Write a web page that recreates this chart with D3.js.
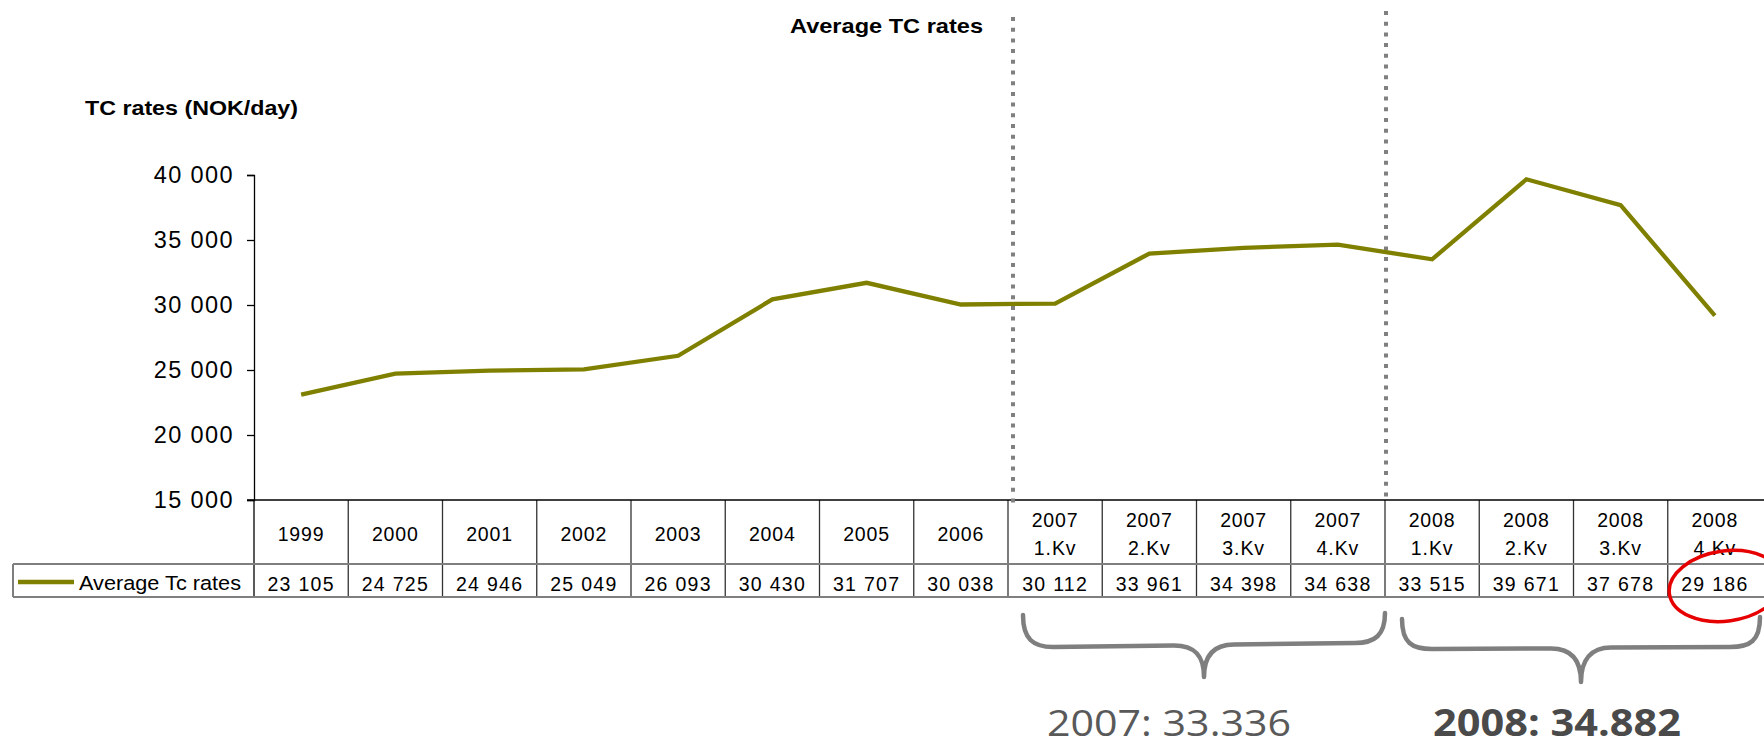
<!DOCTYPE html>
<html>
<head>
<meta charset="utf-8">
<script src="https://cdn.jsdelivr.net/npm/d3@7/dist/d3.min.js"></script>
<style>
  html, body { margin: 0; padding: 0; background: #fff; }
  svg { display: block; }
</style>
</head>
<body>
<script>
// ---------- data ----------
const categories = ["1999","2000","2001","2002","2003","2004","2005","2006",
  "2007 1.Kv","2007 2.Kv","2007 3.Kv","2007 4.Kv",
  "2008 1.Kv","2008 2.Kv","2008 3.Kv","2008 4.Kv"];
const values = [23105,24725,24946,25049,26093,30430,31707,30038,
  30112,33961,34398,34638,33515,39671,37678,29186];
const yTicks = [15000,20000,25000,30000,35000,40000];
const seriesName = "Average Tc rates";
const chartTitle = "Average TC rates";
const yTitle = "TC rates (NOK/day)";
const groupLabels = ["2007: 33.336","2008: 34.882"];
const groupRanges = [["2007 1.Kv","2007 4.Kv"],["2008 1.Kv","2008 4.Kv"]];
const highlighted = "2008 4.Kv";

// ---------- layout ----------
const W = 1764, H = 747;
const svg = d3.select("body").append("svg").attr("width", W).attr("height", H);

const x = d3.scaleBand().domain(categories).range([254, 1762]).paddingInner(0).paddingOuter(0);
const y = d3.scaleLinear().domain([15000, 40000]).range([500, 175]);
const bw = x.bandwidth();
const fmt = v => d3.format(",")(v).replace(/,/g, " ");

const TXT = "'Liberation Sans', Arial, sans-serif";

// titles
svg.append("text").attr("x", 790).attr("y", 33)
  .attr("textLength", 193).attr("lengthAdjust", "spacingAndGlyphs")
  .style("font-family", TXT).style("font-weight", "bold").style("font-size", "21px")
  .text(chartTitle);
svg.append("text").attr("x", 85).attr("y", 115)
  .attr("textLength", 213).attr("lengthAdjust", "spacingAndGlyphs")
  .style("font-family", TXT).style("font-weight", "bold").style("font-size", "21px")
  .text(yTitle);

// y axis
const yAxis = d3.axisLeft(y).tickValues(yTicks).tickSize(7).tickPadding(13).tickFormat(fmt);
const gy = svg.append("g").attr("transform", "translate(254,0)").call(yAxis);
gy.select(".domain").attr("stroke", "#000").attr("stroke-width", 1.3);
gy.selectAll(".tick line").attr("stroke", "#000").attr("stroke-width", 1.3);
gy.selectAll(".tick text").style("font-family", TXT).style("font-size", "23.5px")
  .style("letter-spacing", "1.4px").attr("fill", "#000");

// ---------- table ----------
const tableTop = 500, rowSep = 564, tableBottom = 597, legendLeft = 13;
const tg = svg.append("g");
tg.append("line").attr("x1", 254).attr("x2", 254).attr("y1", tableTop).attr("y2", tableBottom)
  .attr("stroke", "#000").attr("stroke-width", 1.3);
categories.slice(1).forEach(c => {
  tg.append("line").attr("x1", x(c)).attr("x2", x(c)).attr("y1", tableTop).attr("y2", tableBottom)
    .attr("stroke", "#333").attr("stroke-width", 1.3);
});
tg.append("line").attr("x1", 247).attr("x2", W).attr("y1", tableTop).attr("y2", tableTop)
  .attr("stroke", "#000").attr("stroke-width", 1.3);
tg.append("line").attr("x1", legendLeft).attr("x2", W).attr("y1", rowSep).attr("y2", rowSep)
  .attr("stroke", "#7f7f7f").attr("stroke-width", 2);
tg.append("line").attr("x1", legendLeft).attr("x2", W).attr("y1", tableBottom).attr("y2", tableBottom)
  .attr("stroke", "#7f7f7f").attr("stroke-width", 2);
tg.append("line").attr("x1", legendLeft).attr("x2", legendLeft).attr("y1", rowSep).attr("y2", tableBottom)
  .attr("stroke", "#7f7f7f").attr("stroke-width", 2);

// category labels
categories.forEach(c => {
  const parts = c.split(" ");
  const cx = x(c) + bw / 2;
  const t = tg.append("text").attr("text-anchor", "middle")
    .style("font-family", TXT).style("font-size", "19.5px").style("letter-spacing", "0.9px");
  if (parts.length === 1) {
    t.append("tspan").attr("x", cx).attr("y", 541).text(parts[0]);
  } else {
    t.append("tspan").attr("x", cx).attr("y", 527).text(parts[0]);
    t.append("tspan").attr("x", cx).attr("y", 555).text(parts[1]);
  }
});
// value labels
categories.forEach((c, i) => {
  tg.append("text").attr("x", x(c) + bw / 2).attr("y", 591).attr("text-anchor", "middle")
    .style("font-family", TXT).style("font-size", "19.5px").style("letter-spacing", "1.3px")
    .text(fmt(values[i]));
});
// legend
tg.append("line").attr("x1", 18).attr("x2", 74).attr("y1", 582).attr("y2", 582)
  .attr("stroke", "#808000").attr("stroke-width", 4.5);
tg.append("text").attr("x", 79).attr("y", 590)
  .attr("textLength", 162).attr("lengthAdjust", "spacingAndGlyphs")
  .style("font-family", TXT).style("font-size", "20.5px")
  .text(seriesName);

// ---------- dotted separators ----------
const dotted = [[x("2007 1.Kv") + 5, 17, 507], [x("2008 1.Kv") + 1, 11, 497]];
dotted.forEach(d => {
  svg.append("line").attr("x1", d[0]).attr("x2", d[0]).attr("y1", d[1]).attr("y2", d[2])
    .attr("stroke", "#808080").attr("stroke-width", 4).attr("stroke-dasharray", "4,6.7");
});

// ---------- line ----------
const line = d3.line().x((d, i) => x(categories[i]) + bw / 2).y(d => y(d));
svg.append("path").datum(values).attr("d", line)
  .attr("fill", "none").attr("stroke", "#808000").attr("stroke-width", 4.3);

// ---------- braces ----------
function bracePath(x1, x2, top, hL, hR, tip) {
  const m = (x1 + x2) / 2;
  const r = 30;
  return `M${x1},${top} C${x1},${top + 24} ${x1 + 10},${hL} ${x1 + r},${hL}` +
         ` L${m - r},${(hL + hR) / 2 + 0.5}` +
         ` C${m - 10},${(hL + hR) / 2 + 0.5} ${m},${tip - 22} ${m},${tip}` +
         ` M${m},${tip} C${m},${tip - 22} ${m + 10},${(hL + hR) / 2 - 0.5} ${m + r},${(hL + hR) / 2 - 0.5}` +
         ` L${x2 - r},${hR} C${x2 - 10},${hR} ${x2},${top + 24 - (hL - hR)} ${x2},${top - 2}`;
}
const braceSpecs = [
  {x1: x(groupRanges[0][0]) + 15, x2: x(groupRanges[0][1]) + bw, top: 615, hL: 647, hR: 643, tip: 677},
  {x1: x(groupRanges[1][0]) + 17, x2: x(groupRanges[1][1]) + bw - 2, top: 619, hL: 649, hR: 647, tip: 682}
];
braceSpecs.forEach(b => {
  svg.append("path").attr("d", bracePath(b.x1, b.x2, b.top, b.hL, b.hR, b.tip))
    .attr("fill", "none").attr("stroke", "#7f7f7f").attr("stroke-width", 4.5)
    .attr("stroke-linecap", "round").attr("stroke-linejoin", "round");
});

// group labels
svg.append("text").attr("x", 1047).attr("y", 736)
  .attr("textLength", 244).attr("lengthAdjust", "spacingAndGlyphs")
  .style("font-family", "'Open Sans', sans-serif").style("font-size", "37px").attr("fill", "#595959")
  .text(groupLabels[0]);
svg.append("text").attr("x", 1433).attr("y", 736)
  .attr("textLength", 248).attr("lengthAdjust", "spacingAndGlyphs")
  .style("font-family", "'Open Sans', sans-serif").style("font-weight", "bold").style("font-size", "37px")
  .attr("fill", "#4a4a4a")
  .text(groupLabels[1]);

// highlight ellipse
const hx = x(highlighted) + bw / 2 + 11;
svg.append("ellipse").attr("cx", 0).attr("cy", 0).attr("rx", 57).attr("ry", 35)
  .attr("transform", `translate(${hx},586) rotate(-8)`)
  .attr("fill", "none").attr("stroke", "#e60000").attr("stroke-width", 3.5);
</script>
</body>
</html>
